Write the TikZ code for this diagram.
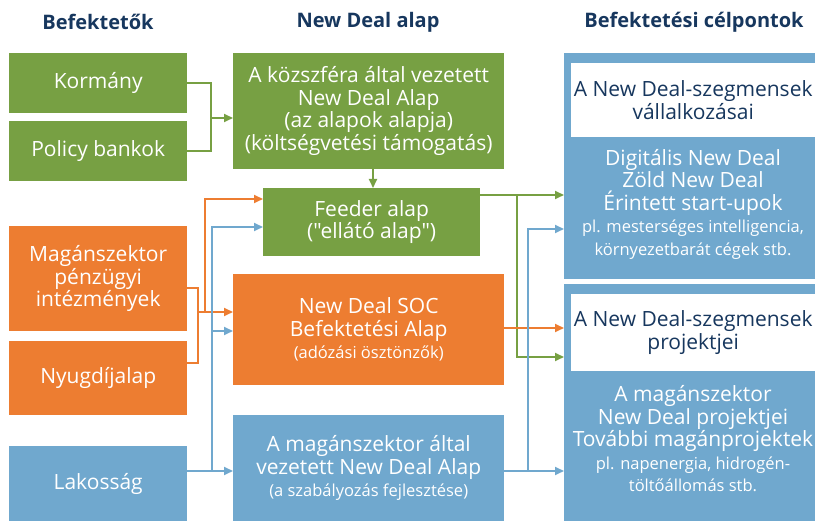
\documentclass[tikz,border=0pt]{standalone}
\usepackage{fontspec}
\setmainfont{Open Sans}[Ligatures=TeXOff]
\usetikzlibrary{arrows.meta, positioning, calc}
\definecolor{cgreen}{HTML}{77A043}
\definecolor{corange}{HTML}{ED7D31}
\definecolor{cblue}{HTML}{70A8CE}
\definecolor{cnavy}{HTML}{17375E}
\newcommand{\smalltxt}[1]{{\fontsize{16.5}{18}\selectfont #1}}

\begin{document}
\begin{tikzpicture}[
  x=1pt, y=-1pt,
  font=\fontsize{21}{22.5}\selectfont,
  box/.style={anchor=north west, inner sep=0pt, align=center, text=white},
  gbox/.style={box, fill=cgreen},
  obox/.style={box, fill=corange},
  bbox/.style={box, fill=cblue},
  wbox/.style={box, fill=white, text=cnavy},
  head/.style={font=\fontsize{20}{22}\selectfont\bfseries, text=cnavy},
  link/.style={line width=2pt},
  tip/.style={-{Triangle[length=9pt, width=8pt]}},
  glink/.style={link, draw=cgreen},
  olink/.style={link, draw=corange},
  blink/.style={link, draw=cblue},
  ]
\useasboundingbox (0,0) rectangle (815,521);

% headers
\node[head] (hbef) at (98,22) {Befektetők};
\node[head] (halap) at (368,22) {New Deal alap};
\node[head] (hcel) at (694,22) {Befektetési célpontok};

% investors
\node[gbox, minimum width=178pt, minimum height=60pt] (kormany) at (9,53) {Kormány};
\node[gbox, minimum width=178pt, minimum height=60pt] (policy) at (9,121) {Policy bankok};
\node[obox, minimum width=178pt, minimum height=105pt] (magan) at (9,226)
  {Magánszektor\\pénzügyi\\intézmények};
\node[obox, minimum width=178pt, minimum height=74pt] (nyugdij) at (9,341) {Nyugdíjalap};
\node[bbox, minimum width=178pt, minimum height=75pt] (lakos) at (9,446) {Lakosság};

% funds
\node[gbox, minimum width=271pt, minimum height=116pt] (kozszfera) at (233,53)
  {A közszféra által vezetett\\New Deal Alap\\(az alapok alapja)\\(költségvetési támogatás)};
\node[gbox, minimum width=217pt, minimum height=68pt] (feeder) at (263,188)
  {Feeder alap\\("ellátó alap")};
\node[obox, minimum width=271pt, minimum height=111pt] (soc) at (233,274)
  {New Deal SOC\\Befektetési Alap\\\smalltxt{(adózási ösztönzők)}};
\node[bbox, minimum width=271pt, minimum height=106pt] (privalap) at (233,415)
  {A magánszektor által\\vezetett New Deal Alap\\\smalltxt{(a szabályozás fejlesztése)}};

% targets
\node[bbox, minimum width=251pt, minimum height=226pt] (cel1) at (564,53) {};
\node[wbox, minimum width=244pt, minimum height=74pt] (cel1fej) at (571,63)
  {A New Deal-szegmensek\\vállalkozásai};
\node[text=white, align=center, inner sep=0pt] (cel1txt) at (693,204)
  {Digitális New Deal\\Zöld New Deal\\Érintett start-upok\\
   \smalltxt{pl. mesterséges intelligencia,}\\\smalltxt{környezetbarát cégek stb.}};
\node[bbox, minimum width=251pt, minimum height=237pt] (cel2) at (564,284) {};
\node[wbox, minimum width=244pt, minimum height=77pt] (cel2fej) at (571,294)
  {A New Deal-szegmensek\\projektjei};
\node[text=white, align=center, inner sep=0pt] (cel2txt) at (693,439)
  {A magánszektor\\New Deal projektjei\\További magánprojektek\\
   \smalltxt{pl. napenergia, hidrogén-}\\\smalltxt{töltőállomás stb.}};

% junctions
\coordinate (gj) at (211,118);
\coordinate (oj) at (198,312);
\coordinate (ou) at (205,312);
\coordinate (bj) at (212,471);
\coordinate (gr) at (517,195);
\coordinate (g2) at (517,357);
\coordinate (br) at (528,471);
\coordinate (b1) at (528,229);

% green
\draw[glink] (kormany.east) -| (gj);
\draw[glink] (policy.east) -| (gj);
\draw[glink, tip] (gj) -- (gj -| kozszfera.west);
\draw[glink, tip] (kozszfera.south -| 373,0) -- (feeder.north -| 373,0);
\draw[glink] (feeder.east |- gr) -- (gr);
\draw[glink, tip] (gr) -- (gr -| cel1.west);
\draw[glink, tip] (gr) -- (g2) -- (g2 -| cel2.west);

% orange
\draw[olink] (magan.east |- 0,288) -| (oj);
\draw[olink] (nyugdij.east |- 0,363) -| (oj);
\draw[olink, tip] (oj) -- (oj -| soc.west);
\draw[olink, tip] (ou) |- (feeder.west |- 0,199);
\draw[olink, tip] (soc.east |- 0,328) -- (cel2.west |- 0,328);

% blue
\draw[blink] (lakos.east |- bj) -- (bj);
\draw[blink, tip] (bj) -- (bj -| privalap.west);
\draw[blink, tip] (bj) |- (feeder.west |- 0,227);
\draw[blink, tip] (bj |- 0,331) -- (soc.west |- 0,331);
\draw[blink] (privalap.east |- br) -- (br);
\draw[blink, tip] (br) -- (br -| cel2.west);
\draw[blink, tip] (br) |- (b1) -- (b1 -| cel1.west);
\end{tikzpicture}
\end{document}
